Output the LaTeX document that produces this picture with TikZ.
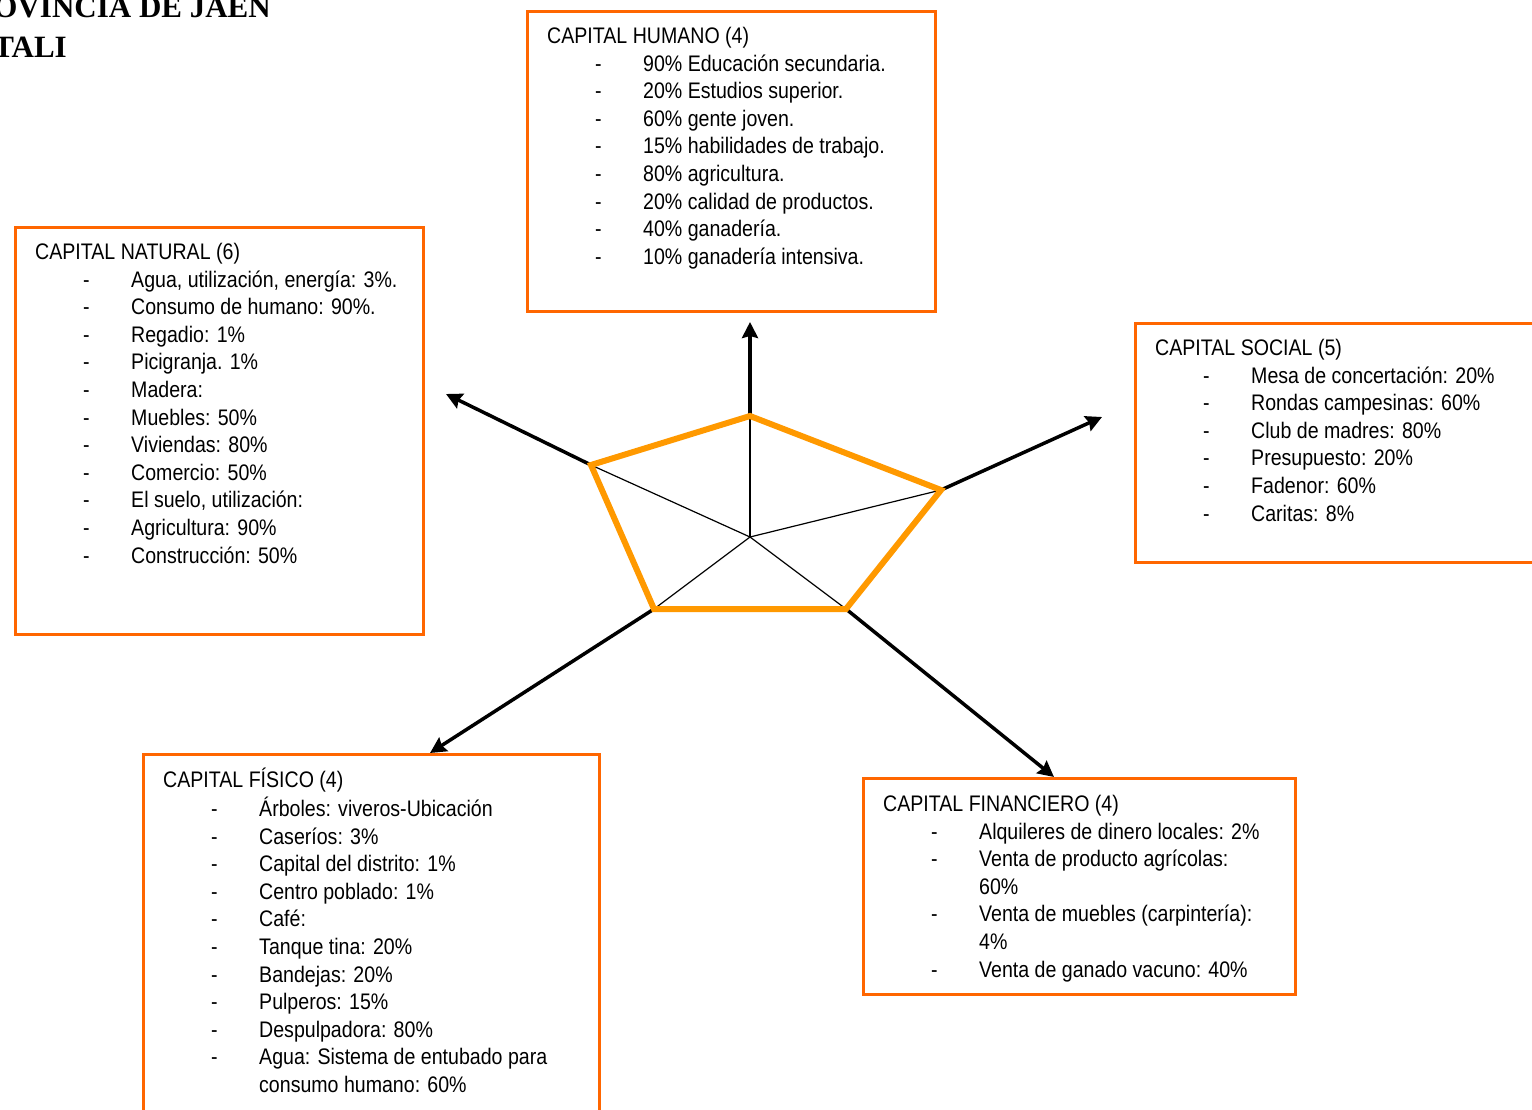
\documentclass[tikz,border=0pt]{standalone}
\usepackage{fontspec}
\setmainfont[FakeStretch=0.87]{Liberation Sans}
\newfontfamily\titlefont{Liberation Serif}
\usetikzlibrary{arrows.meta}
\definecolor{boxorange}{RGB}{255,102,0}
\definecolor{pentorange}{RGB}{255,153,0}
\newcommand{\itm}[1]{\hspace*{48pt}\makebox[48pt][l]{-}#1}
\newcommand{\contline}[1]{\hspace*{96pt}#1}
\tikzset{
  capbox/.style={draw=boxorange,line width=3pt,inner sep=0pt,anchor=north west},
  captext/.style={anchor=north west,inner sep=0pt,align=left,font=\fontsize{22.5}{27.6}\selectfont},
  titletext/.style={anchor=base east,inner sep=0pt,font=\titlefont\bfseries\fontsize{31}{31}\selectfont},
  spoke/.style={line width=1.2pt},
  axisarrow/.style={line width=3.5pt,-{Stealth[length=16pt,width=16pt,inset=2pt]}}
}

\begin{document}
\begin{tikzpicture}[x=1pt,y=-1pt]
\useasboundingbox (0,0) rectangle (1532,1110);
\clip (0,0) rectangle (1532,1110);

% heading, cut at the page edge
\node[titletext] (prov) at (271,18) {OVINCIA DE JAEN};
\node[titletext] (tali) at (67,58) {TALI};

% frames
\node[capbox,minimum width=408pt,minimum height=300pt] (hum) at (526,10) {};
\node[capbox,minimum width=408pt,minimum height=407pt] (nat) at (14,226) {};
\node[capbox,minimum width=420pt,minimum height=239pt] (soc) at (1134,322) {};
\node[capbox,minimum width=456pt,minimum height=400pt] (fis) at (142,753) {};
\node[capbox,minimum width=432pt,minimum height=216pt] (fin) at (862,777) {};

% texts
\node[captext] (humtxt) at (547,23.9) {\strut CAPITAL HUMANO (4)\\
\itm{90\% Educación secundaria.}\\
\itm{20\% Estudios superior.}\\
\itm{60\% gente joven.}\\
\itm{15\% habilidades de trabajo.}\\
\itm{80\% agricultura.}\\
\itm{20\% calidad de productos.}\\
\itm{40\% ganadería.}\\
\itm{10\% ganadería intensiva.}};

\node[captext] (nattxt) at (35,239.9) {\strut CAPITAL NATURAL (6)\\
\itm{Agua, utilización, energía: 3\%.}\\
\itm{Consumo de humano: 90\%.}\\
\itm{Regadio: 1\%}\\
\itm{Picigranja. 1\%}\\
\itm{Madera:}\\
\itm{Muebles: 50\%}\\
\itm{Viviendas: 80\%}\\
\itm{Comercio: 50\%}\\
\itm{El suelo, utilización:}\\
\itm{Agricultura: 90\%}\\
\itm{Construcción: 50\%}};

\node[captext] (soctxt) at (1155,335.9) {\strut CAPITAL SOCIAL (5)\\
\itm{Mesa de concertación: 20\%}\\
\itm{Rondas campesinas: 60\%}\\
\itm{Club de madres: 80\%}\\
\itm{Presupuesto: 20\%}\\
\itm{Fadenor: 60\%}\\
\itm{Caritas: 8\%}};

\node[captext] (fistxt) at (163,767.9) {\strut CAPITAL FÍSICO (4)\\
\itm{Árboles: viveros-Ubicación}\\
\itm{Caseríos: 3\%}\\
\itm{Capital del distrito: 1\%}\\
\itm{Centro poblado: 1\%}\\
\itm{Café:}\\
\itm{Tanque tina: 20\%}\\
\itm{Bandejas: 20\%}\\
\itm{Pulperos: 15\%}\\
\itm{Despulpadora: 80\%}\\
\itm{Agua: Sistema de entubado para}\\
\contline{consumo humano: 60\%}};

\node[captext] (fintxt) at (883,791.9) {\strut CAPITAL FINANCIERO (4)\\
\itm{Alquileres de dinero locales: 2\%}\\
\itm{Venta de producto agrícolas:}\\
\contline{60\%}\\
\itm{Venta de muebles (carpintería):}\\
\contline{4\%}\\
\itm{Venta de ganado vacuno: 40\%}};

% pentagon
\coordinate (c) at (750,537);
\coordinate (p1) at (750,416);
\coordinate (p2) at (941,490);
\coordinate (p3) at (846,609);
\coordinate (p4) at (654,609);
\coordinate (p5) at (591,465);
\coordinate (t1) at (750,322);
\coordinate (t2) at (1102,417);
\coordinate (t3) at (1054,777);
\coordinate (t4) at (430,753);
\coordinate (t5) at (446,394);

\draw[spoke] (c) -- (p1);
\draw[spoke] (c) -- (p2);
\draw[spoke] (c) -- (p3);
\draw[spoke] (c) -- (p4);
\draw[spoke] (c) -- (p5);

\draw[axisarrow] (p1) -- (t1);
\draw[axisarrow] (p2) -- (t2);
\draw[axisarrow] (p3) -- (t3);
\draw[axisarrow] (p4) -- (t4);
\draw[axisarrow] (p5) -- (t5);

\draw[pentorange,line width=6pt] (p1) -- (p2) -- (p3) -- (p4) -- (p5) -- cycle;
\end{tikzpicture}
\end{document}
